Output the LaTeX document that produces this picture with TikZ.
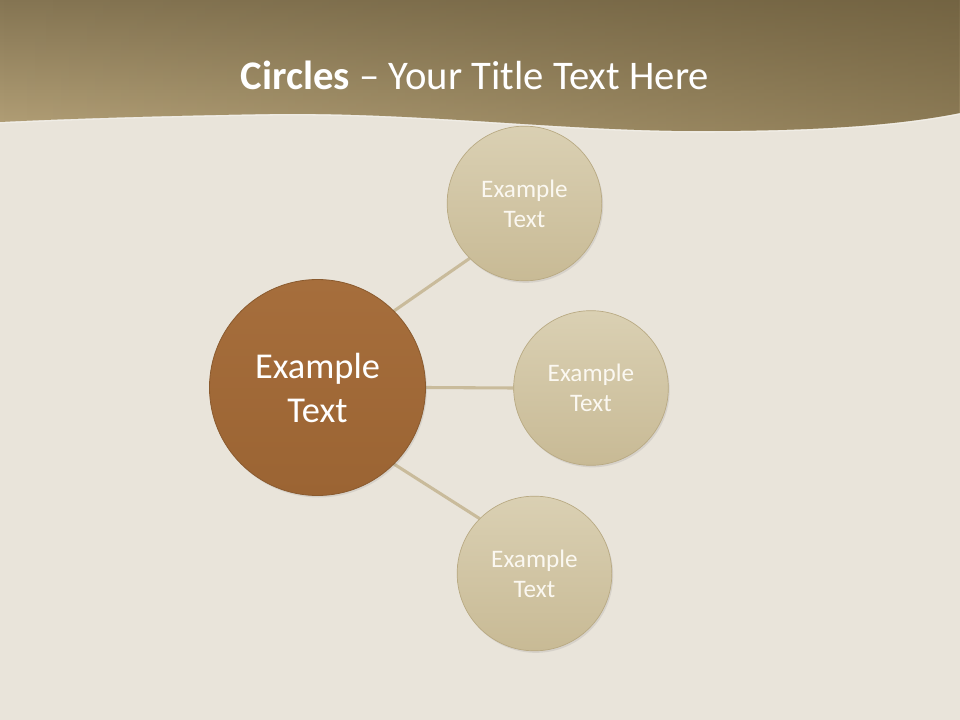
\documentclass[tikz,border=0pt]{standalone}
\usepackage{fontspec}
\setmainfont{Carlito}
\usetikzlibrary{shadows,fadings}
\definecolor{bgcol}{HTML}{E9E4DA}
\definecolor{bandtop}{HTML}{857553}
\definecolor{bandbot}{HTML}{B3A077}
\definecolor{banddark}{HTML}{5E4F2E}
\definecolor{linecol}{HTML}{C9BB9B}
\definecolor{bigtop}{HTML}{A66E3C}
\definecolor{bigbot}{HTML}{9B6433}
\definecolor{bigedge}{HTML}{8A5A2E}
\definecolor{smtop}{HTML}{DAD0B3}
\definecolor{smbot}{HTML}{C8BA95}
\definecolor{smedge}{HTML}{B8A982}
\definecolor{smtext}{HTML}{FBF8F1}
\pgfdeclarelayer{back}
\pgfdeclarelayer{mid}
\pgfsetlayers{back,mid,main}
\tikzset{
  bigcirc/.style={circle, inner sep=0pt, minimum size=162pt, top color=bigtop, bottom color=bigbot,
    draw=bigedge, line width=0.6pt, text=white, align=center,
    font=\fontsize{27.3}{33}\selectfont,
    drop shadow={opacity=0.18, shadow xshift=1pt, shadow yshift=-1.5pt}},
  smcirc/.style={circle, inner sep=0pt, minimum size=116pt, top color=smtop, bottom color=smbot,
    draw=smedge, line width=0.5pt, text=smtext, align=center,
    font=\fontsize{18.9}{22.5}\selectfont,
    drop shadow={opacity=0.18, shadow xshift=1pt, shadow yshift=-1.5pt}},
  conn/.style={draw=linecol, line width=2.3pt},
  titletext/.style={text=white, font=\fontsize{30.5}{36}\selectfont, anchor=base}
}
\begin{document}
\begin{tikzpicture}[x=0.75pt, y=-0.75pt]
\useasboundingbox (0,0) rectangle (960,720);
\begin{pgfonlayer}{back}
  \fill[bgcol] (0,0) rectangle (960,720);
  \shade[top color=bandtop, bottom color=bandbot]
    (0,0) -- (960,0) -- (960,113)
    .. controls (900,125) and (820,131) .. (700,131)
    .. controls (560,131) and (420,112) .. (270,114)
    .. controls (150,116) and (60,119) .. (0,122) -- cycle;
  \fill[banddark, path fading=west, fill opacity=0.45]
    (0,0) -- (960,0) -- (960,113)
    .. controls (900,125) and (820,131) .. (700,131)
    .. controls (560,131) and (420,112) .. (270,114)
    .. controls (150,116) and (60,119) .. (0,122) -- cycle;
  \draw[white, opacity=0.35, line width=0.8pt] (960,114)
    .. controls (900,126) and (820,132) .. (700,132)
    .. controls (560,132) and (420,113) .. (270,115)
    .. controls (150,117) and (60,120) .. (0,123);
\end{pgfonlayer}
\node[titletext] (title) at (475,90) {\textbf{Circles} – Your Title Text Here};
\node[bigcirc] (big) at (317.5,387.5) {Example\\Text};
\node[smcirc] (c1) at (524.5,203.5) {Example\\Text};
\node[smcirc] (c2) at (591,388) {Example\\Text};
\node[smcirc] (c3) at (534.5,573.5) {Example\\Text};
\begin{pgfonlayer}{mid}
  \draw[conn] (big.45) -- (c1.225);
  \draw[conn] (big.0) -- (c2.180);
  \draw[conn] (big.-45) -- (c3.135);
\end{pgfonlayer}
\end{tikzpicture}
\end{document}
